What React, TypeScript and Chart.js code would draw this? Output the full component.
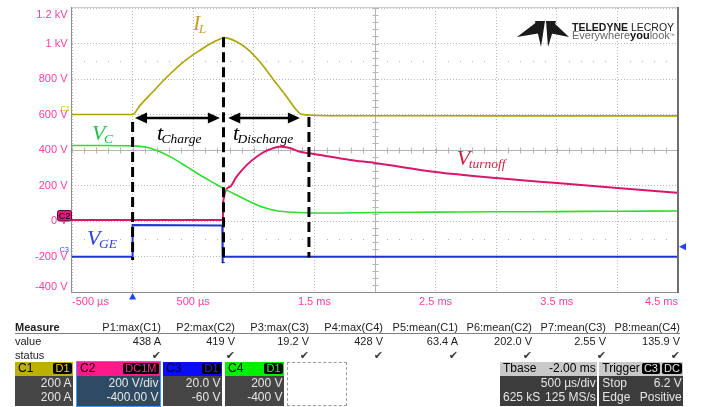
import React, { useEffect, useRef } from 'react';
import { Chart, registerables } from 'chart.js';

Chart.register(...registerables);

// ===== DATA (time in µs, amplitude in V on the 200 V/div display grid) =====
const X_MIN = -500;
const X_MAX = 4500;
const X_STEP = 500;
const Y_MIN = -400;
const Y_MAX = 1200;
const Y_STEP = 200;

const X_LABEL_AT = [-500, 500, 1500, 2500, 3500, 4500];
const X_LABELS = ['-500 µs', '500 µs', '1.5 ms', '2.5 ms', '3.5 ms', '4.5 ms'];
const Y_LABEL_AT = [1200, 1000, 800, 600, 400, 200, 0, -200, -400];
const Y_LABELS = ['1.2 kV', '1 kV', '800 V', '600 V', '400 V', '200 V', '0 V', '-200 V', '-400 V'];

// C1 : inductor current I_L
const IL_T = [-500, 0, 60, 170, 253, 335, 446, 556, 638, 721, 754, 858, 941, 1050, 1158, 1271, 1353, 1394, 1600, 2500, 3500, 4500];
const IL_V = [600, 600, 650, 730, 790, 845, 910, 962, 997, 1025, 1033, 1010, 973, 897, 800, 700, 625, 601, 593, 593, 592, 592];
// C4 : capacitor voltage V_C
const VC_T = [-500, -250, 0, 116, 226, 335, 446, 556, 665, 748, 858, 968, 1078, 1188, 1325, 1545, 2000, 2500, 3000, 3500, 4000, 4500];
const VC_V = [425, 425, 423, 415, 390, 353, 306, 259, 216, 184, 146, 109, 77, 58, 49, 45, 48, 50, 52, 53, 55, 56];
// C2 : V_turnoff
const VT_T = [-500, 745, 748, 803, 858, 941, 1023, 1106, 1215, 1298, 1380, 1463, 1545, 1793, 2000, 2500, 3000, 3500, 4000, 4500];
const VT_V = [6, 6, 110, 193, 250, 315, 362, 396, 419, 411, 390, 381, 372, 344, 327, 276, 242, 214, 186, 158];
// C3 : gate voltage V_GE
const VGE_T = [-500, 0, 0, 740, 742, 744, 4500];
const VGE_V = [-201, -201, -23, -26, -238, -201, -201];

// annotation marks (data coordinates)
const MARK_T = [0, 750, 1455];
const MARK_TOP = [558, 1035, 586];
const MARK_BOTTOM = [-220, -237, -205];
const SPAN_FROM = [20, 789];
const SPAN_TO = [720, 1380];
const SPAN_V = 580;
const NOTE_MAIN = ['I', 'V', 't', 't', 'V', 'V'];
const NOTE_SUB = ['L', 'C', 'Charge', 'Discharge', 'turnoff', 'GE'];
const NOTE_T = [498, -335, 201, 828, 2675, -376];
const NOTE_V = [1076, 456, 456, 456, 315, -135];
const TRIG_T = 0;
const C3_LEVEL_V = -145;
const C1_REF_V = 600;
const C2_REF_V = 0;
const C3_REF_V = -200;
const CENTER_T = 2000;
const CENTER_V = 400;
const MINOR_T = 100;
const MINOR_V = 40;
const DOT_ROWS_V = [900, -100];

// measurement table
const MEAS_HEADERS = ['P1:max(C1)', 'P2:max(C2)', 'P3:max(C3)', 'P4:max(C4)', 'P5:mean(C1)', 'P6:mean(C2)', 'P7:mean(C3)', 'P8:mean(C4)'];
const MEAS_VALUES = ['438 A', '419 V', '19.2 V', '428 V', '63.4 A', '202.0 V', '2.55 V', '135.9 V'];
// channel descriptors
const CH_NAMES = ['C1', 'C2', 'C3', 'C4'];
const CH_COUPLING = ['D1', 'DC1M', 'D1', 'D1'];
const CH_SCALE = ['200 A', '200 V/div', '20.0 V', '200 V'];
const CH_OFFSET = ['200 A', '-400.00 V', '-60 V', '-400 V'];
const TB_TEXT = ['Tbase', '-2.00 ms', '500 µs/div', '625 kS', '125 MS/s'];
const TRIG_TEXT = ['Trigger', 'C3', 'DC', 'Stop', '6.2 V', 'Edge', 'Positive'];

// ===== STYLE / LAYOUT =====
const SANS = '"Liberation Sans", Arial, sans-serif';
const SERIF = '"Liberation Serif", "Times New Roman", serif';
const PINK = '#ff3d9e';
const GRID = '#b8b8b8';
const COL_IL = '#aca200';
const COL_VT = '#d8176b';
const COL_VGE = '#1f33d4';
const COL_VC = '#2fdc2f';
const NOTE_COLORS = ['#c9a12c', '#25c04a', '#000000', '#000000', '#d21e42', '#2b3fd9'];
const CH_COLORS = ['#bcb000', '#ff1a8c', '#0a0aff', '#00ee00'];
const CH_BADGE_TEXT = ['#e8dc00', '#ff2a95', '#2a2aff', '#22ff22'];
const CH_BOX_X = [15, 77, 163, 225];
const CH_BOX_W = [58, 83, 59, 59];
const CH_BODY = ['#454545', '#2e4b63', '#454545', '#454545'];
const MEAS_RIGHT = [161, 235, 309, 383, 458, 532, 606, 680];

const zip = (ts: number[], vs: number[]) => ts.map((t, i) => ({ x: t, y: vs[i] }));

function arrowHead(ctx: any, x: number, y: number, dir: number) {
  ctx.beginPath();
  ctx.moveTo(x, y);
  ctx.lineTo(x - dir * 12, y - 5.5);
  ctx.lineTo(x - dir * 12, y + 5.5);
  ctx.closePath();
  ctx.fill();
}

const scopePlugin = {
  id: 'scopeDecor',
  beforeDatasetsDraw(chart: any) {
    const { ctx, chartArea: a } = chart;
    const xs = chart.scales.x;
    const ys = chart.scales.y;
    ctx.save();
    ctx.fillStyle = '#b0b0b0';
    for (const v of DOT_ROWS_V) {
      const py = Math.round(ys.getPixelForValue(v));
      for (let t = X_MIN + MINOR_T; t < X_MAX; t += MINOR_T) {
        if (t % X_STEP === 0) continue;
        ctx.fillRect(Math.round(xs.getPixelForValue(t)), py, 1, 1);
      }
    }
    ctx.strokeStyle = '#b4b4b4';
    ctx.lineWidth = 1;
    const cx = Math.round(xs.getPixelForValue(CENTER_T)) + 0.5;
    const cy = Math.round(ys.getPixelForValue(CENTER_V)) + 0.5;
    ctx.beginPath();
    ctx.moveTo(cx, a.top);
    ctx.lineTo(cx, a.bottom);
    ctx.moveTo(a.left, cy);
    ctx.lineTo(a.right, cy);
    for (let v = Y_MIN; v <= Y_MAX; v += MINOR_V) {
      const py = Math.round(ys.getPixelForValue(v)) + 0.5;
      ctx.moveTo(cx - 3, py);
      ctx.lineTo(cx + 3, py);
    }
    for (let t = X_MIN; t <= X_MAX; t += MINOR_T) {
      const px = Math.round(xs.getPixelForValue(t)) + 0.5;
      ctx.moveTo(px, cy - 3);
      ctx.lineTo(px, cy + 3);
    }
    ctx.stroke();
    ctx.restore();
  },
  afterDatasetsDraw(chart: any) {
    const { ctx, chartArea: a } = chart;
    const xs = chart.scales.x;
    const ys = chart.scales.y;
    ctx.save();
    // frame
    ctx.fillStyle = '#cccccc';
    ctx.fillRect(a.left, a.top - 1, a.right - a.left, 1);
    ctx.fillStyle = '#8e8e8e';
    ctx.fillRect(a.left - 1, a.top - 1, 1, a.bottom - a.top + 2);
    ctx.fillRect(a.left - 1, a.bottom, a.right - a.left + 1, 1);
    ctx.fillStyle = '#6e6e6e';
    ctx.fillRect(a.right - 1, a.top - 1, 2, a.bottom - a.top + 2);

    // dashed time markers
    ctx.strokeStyle = '#000';
    ctx.lineWidth = 3;
    ctx.setLineDash([10, 5]);
    MARK_T.forEach((t, i) => {
      const px = xs.getPixelForValue(t);
      ctx.beginPath();
      ctx.moveTo(px, ys.getPixelForValue(MARK_TOP[i]));
      ctx.lineTo(px, ys.getPixelForValue(MARK_BOTTOM[i]));
      ctx.stroke();
    });
    ctx.setLineDash([]);

    // double arrows
    ctx.fillStyle = '#000';
    ctx.lineWidth = 2.5;
    const py = ys.getPixelForValue(SPAN_V);
    SPAN_FROM.forEach((t0, i) => {
      const p0 = xs.getPixelForValue(t0);
      const p1 = xs.getPixelForValue(SPAN_TO[i]);
      ctx.beginPath();
      ctx.moveTo(p0 + 8, py);
      ctx.lineTo(p1 - 8, py);
      ctx.stroke();
      arrowHead(ctx, p0, py, -1);
      arrowHead(ctx, p1, py, 1);
    });

    // italic notes
    ctx.textAlign = 'left';
    ctx.textBaseline = 'alphabetic';
    NOTE_MAIN.forEach((m, i) => {
      const px = xs.getPixelForValue(NOTE_T[i]);
      const pv = ys.getPixelForValue(NOTE_V[i]);
      ctx.fillStyle = NOTE_COLORS[i];
      ctx.font = `italic 22px ${SERIF}`;
      ctx.fillText(m, px, pv);
      const w = ctx.measureText(m).width;
      ctx.font = `italic 13.5px ${SERIF}`;
      ctx.fillText(NOTE_SUB[i], px + w - 1.5, pv + 3);
    });

    // y tick labels (kept inside the frame like the scope does)
    ctx.font = `11px ${SANS}`;
    ctx.fillStyle = PINK;
    ctx.textAlign = 'right';
    ctx.textBaseline = 'middle';
    Y_LABEL_AT.forEach((v, i) => {
      let p = ys.getPixelForValue(v);
      p = Math.min(Math.max(p, a.top + 7), a.bottom - 5);
      ctx.fillText(Y_LABELS[i], a.left - 4.5, p);
    });

    // channel reference markers
    ctx.font = `7.5px ${SANS}`;
    ctx.textBaseline = 'alphabetic';
    ctx.fillStyle = '#c8b400';
    ctx.fillText('C1', a.left - 2, ys.getPixelForValue(C1_REF_V) - 3.5);
    ctx.fillStyle = '#2a4cff';
    ctx.fillText('C3', a.left - 3, ys.getPixelForValue(C3_REF_V) - 4.5);
    const c2y = ys.getPixelForValue(C2_REF_V);
    ctx.fillStyle = '#e8177f';
    ctx.strokeStyle = '#5a0a30';
    ctx.lineWidth = 1;
    ctx.beginPath();
    ctx.roundRect(a.left - 14.5, c2y - 10.5, 14, 10.5, 2);
    ctx.fill();
    ctx.stroke();
    ctx.fillStyle = '#000';
    ctx.font = `9px ${SANS}`;
    ctx.textAlign = 'center';
    ctx.fillText('C2', a.left - 7.5, c2y - 2);

    // trigger position and level markers
    ctx.fillStyle = '#1c44ff';
    const tx = xs.getPixelForValue(TRIG_T);
    ctx.beginPath();
    ctx.moveTo(tx, a.bottom + 1);
    ctx.lineTo(tx - 3.5, a.bottom + 7.5);
    ctx.lineTo(tx + 3.5, a.bottom + 7.5);
    ctx.closePath();
    ctx.fill();
    const ly = ys.getPixelForValue(C3_LEVEL_V);
    ctx.beginPath();
    ctx.moveTo(a.right + 1, ly);
    ctx.lineTo(a.right + 8, ly - 3.5);
    ctx.lineTo(a.right + 8, ly + 3.5);
    ctx.closePath();
    ctx.fill();
    ctx.restore();
  },
};

type TP = { x: number; y: number; s?: number; a?: 'l' | 'r'; c?: string; b?: boolean; children: React.ReactNode };
const T = ({ x, y, s = 11, a = 'l', c = '#222', b = false, children }: TP) => (
  <div
    style={{
      position: 'absolute',
      left: x,
      top: y - 0.8465 * s,
      fontSize: s,
      lineHeight: `${s}px`,
      fontFamily: SANS,
      fontWeight: b ? 700 : 400,
      color: c,
      whiteSpace: 'nowrap',
      transform: a === 'r' ? 'translateX(-100%)' : undefined,
    }}
  >
    {children}
  </div>
);

const badge = (text: string, color: string) => (
  <span
    style={{
      background: '#000',
      color,
      borderRadius: 2,
      padding: '0 2px',
      fontSize: 11,
      lineHeight: '11px',
      height: 11,
      display: 'inline-block',
      marginLeft: 2,
    }}
  >
    {text}
  </span>
);

const headerStyle = (left: number, width: number, bg: string): React.CSSProperties => ({
  position: 'absolute',
  left,
  top: 362.3,
  width,
  height: 13.4,
  background: bg,
  display: 'flex',
  justifyContent: 'space-between',
  alignItems: 'center',
  boxSizing: 'border-box',
  padding: '0 1.5px 0 3px',
  fontFamily: SANS,
  fontSize: 12,
  lineHeight: '13.4px',
  color: '#000',
  whiteSpace: 'nowrap',
});

const bodyStyle = (left: number, width: number, bg: string): React.CSSProperties => ({
  position: 'absolute',
  left,
  top: 375.7,
  width,
  height: 30,
  background: bg,
  boxSizing: 'border-box',
  padding: '0 1.5px 0 3px',
  fontFamily: SANS,
  fontSize: 12,
  lineHeight: '14px',
  color: '#e6e6e6',
  whiteSpace: 'nowrap',
});

export default function App() {
  const ref = useRef<HTMLCanvasElement>(null);
  useEffect(() => {
    const canvas = ref.current!;
    const chart = new Chart(canvas, {
      type: 'line',
      data: {
        datasets: [
          { data: zip(VC_T, VC_V), borderColor: COL_VC, borderWidth: 1.6, cubicInterpolationMode: 'monotone' },
          { data: zip(VGE_T, VGE_V), borderColor: COL_VGE, borderWidth: 2, tension: 0 },
          { data: zip(VT_T, VT_V), borderColor: COL_VT, borderWidth: 2, cubicInterpolationMode: 'monotone' },
          { data: zip(IL_T, IL_V), borderColor: COL_IL, borderWidth: 1.6, cubicInterpolationMode: 'monotone' },
        ] as any,
      },
      options: {
        animation: false,
        responsive: false,
        maintainAspectRatio: false,
        devicePixelRatio: 1,
        layout: { padding: { left: 0, right: 23, top: 8, bottom: 0 } },
        elements: { point: { radius: 0 }, line: { fill: false } },
        plugins: { legend: { display: false }, tooltip: { enabled: false } },
        scales: {
          x: {
            type: 'linear',
            min: X_MIN,
            max: X_MAX,
            afterFit: (s: any) => {
              s.height = 115;
            },
            ticks: {
              stepSize: X_STEP,
              autoSkip: false,
              maxRotation: 0,
              align: 'inner',
              padding: 3,
              color: PINK,
              font: { family: SANS, size: 11 },
              callback: (v: any) => {
                const i = X_LABEL_AT.indexOf(Number(v));
                return i >= 0 ? X_LABELS[i] : '';
              },
            },
            grid: { color: GRID, drawTicks: false, lineWidth: 1 },
            border: { display: false, dash: [1, 2] },
          },
          y: {
            type: 'linear',
            min: Y_MIN,
            max: Y_MAX,
            afterFit: (s: any) => {
              s.width = 72;
            },
            ticks: { stepSize: Y_STEP, display: false },
            grid: { color: GRID, drawTicks: false, lineWidth: 1 },
            border: { display: false, dash: [1, 2] },
          },
        },
      } as any,
      plugins: [scopePlugin],
    });
    return () => chart.destroy();
  }, []);

  return (
    <div style={{ position: 'absolute', left: 0, top: 0, width: 701, height: 407, overflow: 'hidden', background: '#fff' }}>
      <canvas ref={ref} width={701} height={407} style={{ position: 'absolute', left: 0, top: 0, width: 701, height: 407 }} />

      {/* logo */}
      <svg style={{ position: 'absolute', left: 0, top: 0 }} width={701} height={60}>
        <polygon points="517,37 538,21 541,33" fill="#1a1a1a" />
        <polygon points="535,21 545,21 541,47" fill="#1a1a1a" />
        <polygon points="546,21 556,21 548,47" fill="#1a1a1a" />
        <polygon points="569,37 552,21 549,33" fill="#1a1a1a" />
      </svg>
      <T x={572} y={30.8} s={10.5} c="#1a1a1a">
        <b>TELEDYNE</b> LECROY
      </T>
      <T x={572} y={39.5} s={11} c="#666">
        Everywhere<b style={{ color: '#111' }}>you</b>look<span style={{ fontSize: 5, verticalAlign: 'top' }}>™</span>
      </T>

      {/* measurement table */}
      <T x={15} y={331.5} b>
        Measure
      </T>
      {MEAS_HEADERS.map((h, i) => (
        <T key={'h' + i} x={MEAS_RIGHT[i]} y={331.5} a="r">
          {h}
        </T>
      ))}
      <div style={{ position: 'absolute', left: 15, top: 333, width: 665, height: 1, background: '#808080' }} />
      <T x={15} y={345.5}>
        value
      </T>
      {MEAS_VALUES.map((v, i) => (
        <T key={'v' + i} x={MEAS_RIGHT[i]} y={345.5} a="r">
          {v}
        </T>
      ))}
      <T x={15} y={359}>
        status
      </T>
      {MEAS_VALUES.map((_, i) => (
        <div
          key={'s' + i}
          style={{
            position: 'absolute',
            left: MEAS_RIGHT[i] - 12,
            top: 349.5,
            width: 12,
            textAlign: 'right',
            fontFamily: '"DejaVu Sans", sans-serif',
            fontSize: 11,
            lineHeight: '11px',
            color: '#3a3a3a',
          }}
        >
          ✔
        </div>
      ))}

      {/* channel boxes */}
      <div style={{ position: 'absolute', left: 76, top: 361, width: 85, height: 45.5, border: '1px solid #3f9cff', boxSizing: 'border-box' }} />
      {CH_NAMES.map((n, i) => (
        <React.Fragment key={n}>
          <div style={headerStyle(CH_BOX_X[i], CH_BOX_W[i], CH_COLORS[i])}>
            <span>{n}</span>
            {badge(CH_COUPLING[i], CH_BADGE_TEXT[i])}
          </div>
          <div style={bodyStyle(CH_BOX_X[i], CH_BOX_W[i], CH_BODY[i])}>
            <div style={{ textAlign: 'right' }}>{CH_SCALE[i]}</div>
            <div style={{ textAlign: 'right' }}>{CH_OFFSET[i]}</div>
          </div>
        </React.Fragment>
      ))}
      <div style={{ position: 'absolute', left: 287, top: 361.5, width: 60, height: 44.5, border: '1px dashed #9a9a9a', boxSizing: 'border-box' }} />

      {/* timebase */}
      <div style={headerStyle(500, 97.3, '#c9c9c9')}>
        <span>{TB_TEXT[0]}</span>
        <span>{TB_TEXT[1]}</span>
      </div>
      <div style={bodyStyle(500, 97.3, '#3c3c3c')}>
        <div style={{ textAlign: 'right' }}>{TB_TEXT[2]}</div>
        <div style={{ display: 'flex', justifyContent: 'space-between' }}>
          <span>{TB_TEXT[3]}</span>
          <span>{TB_TEXT[4]}</span>
        </div>
      </div>

      {/* trigger */}
      <div style={headerStyle(599.3, 84, '#c9c9c9')}>
        <span>{TRIG_TEXT[0]}</span>
        <span>
          {badge(TRIG_TEXT[1], '#e6e6e6')}
          {badge(TRIG_TEXT[2], '#e6e6e6')}
        </span>
      </div>
      <div style={bodyStyle(599.3, 84, '#3c3c3c')}>
        <div style={{ display: 'flex', justifyContent: 'space-between' }}>
          <span>{TRIG_TEXT[3]}</span>
          <span>{TRIG_TEXT[4]}</span>
        </div>
        <div style={{ display: 'flex', justifyContent: 'space-between' }}>
          <span>{TRIG_TEXT[5]}</span>
          <span>{TRIG_TEXT[6]}</span>
        </div>
      </div>
    </div>
  );
}
